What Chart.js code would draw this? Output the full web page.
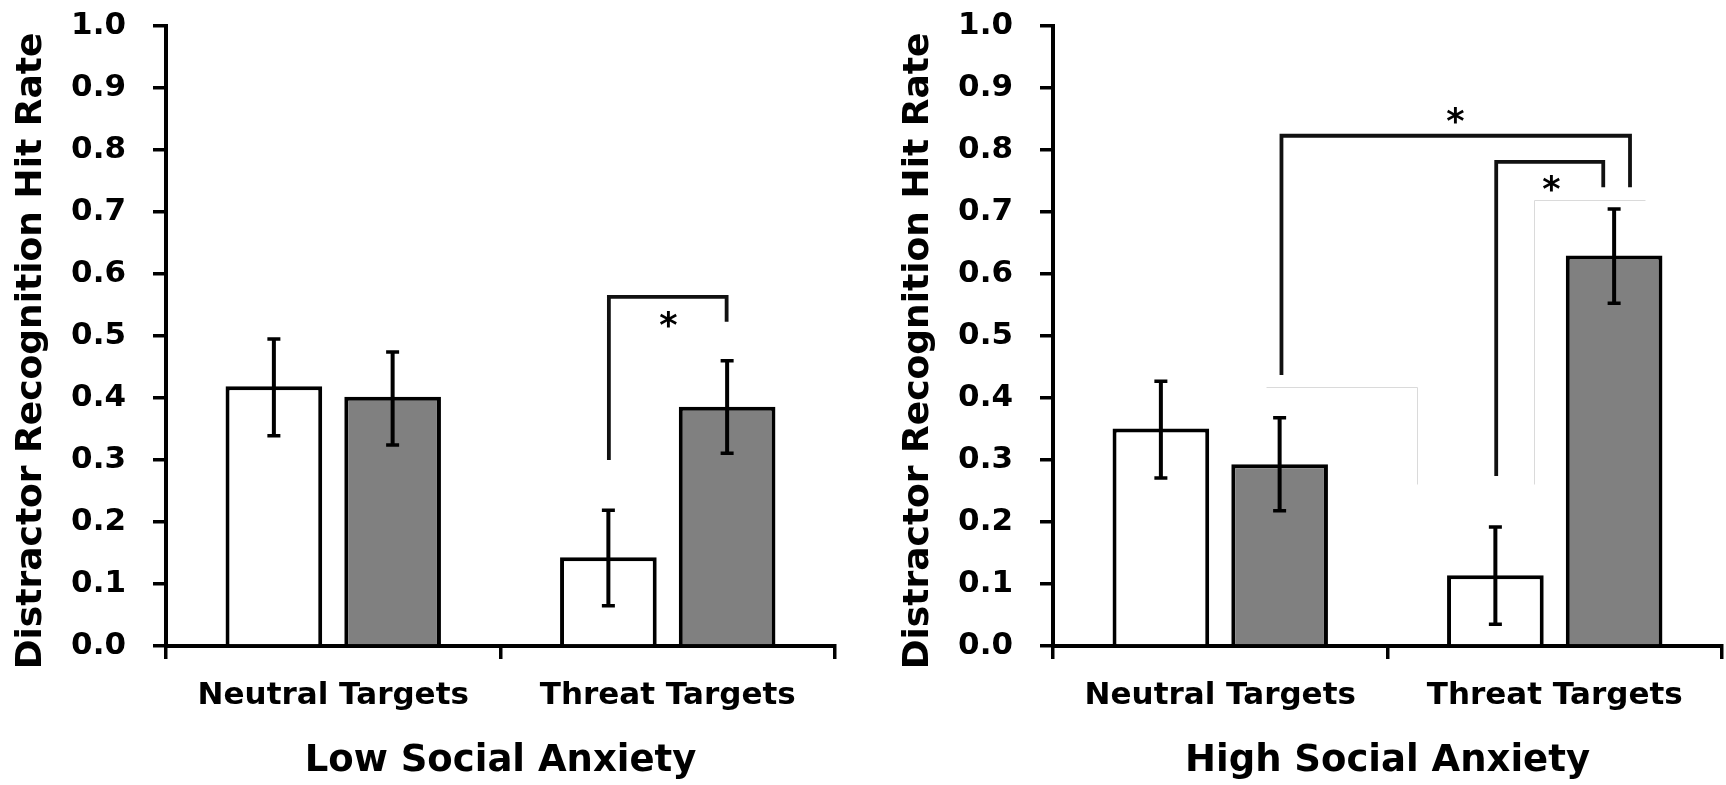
<!DOCTYPE html>
<html>
<head>
<meta charset="utf-8">
<script src="https://cdn.jsdelivr.net/npm/chart.js@4.4.0/dist/chart.umd.min.js"></script>
<style>
  html, body { margin: 0; padding: 0; background: #fff; overflow: hidden; }
  #wrap { position: relative; width: 1726px; height: 785px; }
  #lowChart { position: absolute; left: 0; top: 0; }
  #highChart { position: absolute; left: 887px; top: 0; }
</style>
</head>
<body>
<div id="wrap">
  <canvas id="lowChart" width="887" height="785"></canvas>
  <canvas id="highChart" width="839" height="785"></canvas>
</div>
<script>
  const categories = ['Neutral Targets', 'Threat Targets'];
  const yTicks = [0, 0.1, 0.2, 0.3, 0.4, 0.5, 0.6, 0.7, 0.8, 0.9, 1.0];
  const yTickLabels = ['0.0', '0.1', '0.2', '0.3', '0.4', '0.5', '0.6', '0.7', '0.8', '0.9', '1.0'];
  const yTitle = 'Distractor Recognition Hit Rate';

  // Low social anxiety
  const lowWhite = [0.419, 0.143];
  const lowWhiteLo = [0.339, 0.065];
  const lowWhiteHi = [0.495, 0.219];
  const lowGray = [0.402, 0.386];
  const lowGrayLo = [0.324, 0.311];
  const lowGrayHi = [0.474, 0.460];

  // High social anxiety
  const highWhite = [0.351, 0.114];
  const highWhiteLo = [0.271, 0.035];
  const highWhiteHi = [0.427, 0.192];
  const highGray = [0.293, 0.630];
  const highGrayLo = [0.218, 0.553];
  const highGrayHi = [0.368, 0.705];

  // significance brackets, ends given as [category, share of category width]
  const lowBrackets = [
    { from: [1, -0.176], to: [1, 0.176], fromY: 0.300, toY: 0.523, top: 0.563, star: [1, 0.002], starY: 0.526 }
  ];
  const highBrackets = [
    { from: [0, 0.183], to: [1, 0.225], fromY: 0.437, toY: 0.740, top: 0.823, star: [1, -0.297], starY: 0.855 },
    { from: [1, -0.175], to: [1, 0.145], fromY: 0.274, toY: 0.740, top: 0.781, star: [1, -0.010], starY: 0.745 }
  ];
  // faint edges of pasted patches in the original figure
  const lowPatches = [];
  const highPatches = [
    [[0, 0.136, 0.418], [1, -0.412, 0.418], [1, -0.412, 0.261]],
    [[1, -0.061, 0.261], [1, -0.061, 0.719], [1, 0.27, 0.719]]
  ];

  const FONT = '"DejaVu Sans", Verdana, sans-serif';

  const overlay = {
    id: 'overlay',
    afterDatasetsDraw(chart, args, opts) {
      const ctx = chart.ctx;
      const xs = chart.scales.x, ys = chart.scales.y;
      const step = xs.getPixelForValue(1) - xs.getPixelForValue(0);
      const px = p => xs.getPixelForValue(p[0]) + p[1] * step;
      ctx.save();

      ctx.strokeStyle = '#dadada';
      ctx.lineWidth = 1;
      opts.patches.forEach(pts => {
        ctx.beginPath();
        pts.forEach((p, i) => {
          const x = Math.round(px(p)) + 0.5, y = Math.round(ys.getPixelForValue(p[2])) + 0.5;
          if (i) ctx.lineTo(x, y); else ctx.moveTo(x, y);
        });
        ctx.stroke();
      });

      // error bars
      ctx.strokeStyle = '#000';
      opts.errors.forEach((err, d) => {
        chart.getDatasetMeta(d).data.forEach((bar, i) => {
          const yLo = ys.getPixelForValue(err[0][i]);
          const yHi = ys.getPixelForValue(err[1][i]);
          ctx.lineWidth = 4;
          ctx.beginPath();
          ctx.moveTo(bar.x, yLo);
          ctx.lineTo(bar.x, yHi);
          ctx.stroke();
          ctx.lineWidth = 3.5;
          ctx.beginPath();
          ctx.moveTo(bar.x - 6.5, yLo); ctx.lineTo(bar.x + 6.5, yLo);
          ctx.moveTo(bar.x - 6.5, yHi); ctx.lineTo(bar.x + 6.5, yHi);
          ctx.stroke();
        });
      });

      // brackets and stars
      ctx.strokeStyle = '#111';
      ctx.lineWidth = 3.8;
      ctx.fillStyle = '#000';
      ctx.font = 'bold 35px ' + FONT;
      ctx.textAlign = 'center';
      ctx.textBaseline = 'alphabetic';
      opts.brackets.forEach(b => {
        const x1 = px(b.from), x2 = px(b.to), yt = ys.getPixelForValue(b.top);
        ctx.beginPath();
        ctx.moveTo(x1, ys.getPixelForValue(b.fromY));
        ctx.lineTo(x1, yt);
        ctx.lineTo(x2, yt);
        ctx.lineTo(x2, ys.getPixelForValue(b.toY));
        ctx.stroke();
        ctx.fillText('*', px(b.star), ys.getPixelForValue(b.starY) + 17);
      });
      ctx.restore();
    },
    afterDraw(chart) {
      const ctx = chart.ctx;
      const area = chart.chartArea;
      ctx.save();
      ctx.translate(32, (area.top + area.bottom) / 2 + 15);
      ctx.rotate(-Math.PI / 2);
      ctx.font = 'bold 36px ' + FONT;
      ctx.fillStyle = '#000';
      ctx.textAlign = 'center';
      ctx.textBaseline = 'middle';
      ctx.fillText(yTitle, 0, 0);
      ctx.restore();
    }
  };

  function makeChart(id, title, white, gray, errors, brackets, patches, padRight) {
    return new Chart(document.getElementById(id), {
      type: 'bar',
      data: {
        labels: categories,
        datasets: [
          { data: white, backgroundColor: '#ffffff', borderColor: '#000', borderWidth: 4 },
          { data: gray, backgroundColor: '#808080', borderColor: '#000', borderWidth: 4 }
        ]
      },
      options: {
        responsive: false,
        animation: false,
        categoryPercentage: 0.71,
        barPercentage: 0.814,
        layout: { padding: { top: 26, right: padRight, left: 0, bottom: 0 } },
        plugins: {
          legend: { display: false },
          tooltip: { enabled: false },
          overlay: { errors: errors, brackets: brackets, patches: patches }
        },
        scales: {
          x: {
            afterFit: s => { s.height = 139; },
            border: { display: true, color: '#000', width: 4 },
            grid: { drawOnChartArea: false, drawTicks: true, tickLength: 13, color: '#000', lineWidth: 3.5, offset: true },
            ticks: { color: '#000', font: { family: FONT, size: 31, weight: 'bold' }, padding: 18 },
            title: {
              display: true, text: title, color: '#000',
              font: { family: FONT, size: 37, weight: 'bold' },
              padding: { top: 0, bottom: 1 }
            }
          },
          y: {
            min: 0, max: 1,
            afterBuildTicks: s => { s.ticks = yTicks.map(v => ({ value: v })); },
            afterFit: s => { s.width = 166; s.paddingTop = 0; s.paddingBottom = 0; },
            border: { display: true, color: '#000', width: 4 },
            grid: { drawOnChartArea: false, drawTicks: true, tickLength: 13, color: '#000', lineWidth: 3.5 },
            ticks: {
              color: '#000', font: { family: FONT, size: 31, weight: 'bold' }, padding: 27,
              callback: (v, i) => yTickLabels[i]
            }
          }
        }
      },
      plugins: [overlay]
    });
  }

  makeChart('lowChart', 'Low Social Anxiety', lowWhite, lowGray,
    [[lowWhiteLo, lowWhiteHi], [lowGrayLo, lowGrayHi]], lowBrackets, lowPatches, 52);
  makeChart('highChart', 'High Social Anxiety', highWhite, highGray,
    [[highWhiteLo, highWhiteHi], [highGrayLo, highGrayHi]], highBrackets, highPatches, 4);
</script>
</body>
</html>
